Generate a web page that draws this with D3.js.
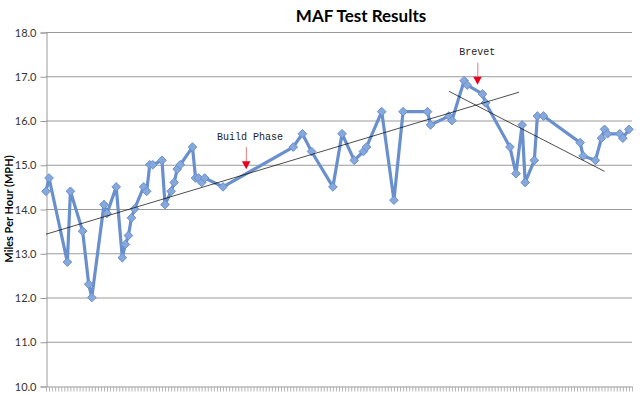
<!DOCTYPE html>
<html>
<head>
<meta charset="utf-8">
<script src="https://cdn.jsdelivr.net/npm/d3@7"></script>
<style>
	body { margin: 0; background: #fff; }
	svg { display: block; }
</style>
</head>
<body>
<svg id="chart" width="640" height="394"></svg>
<script>
// MAF test results, one point per ride (x = day number)

var days = [0, 1, 7, 8, 12, 14, 15, 19, 20, 23, 25, 26, 27, 28, 29, 32, 33, 34, 35, 38, 39, 41, 42, 43, 44,
	48, 49, 50, 51, 52, 58, 81, 84, 87, 94, 97, 101, 104, 105, 110, 114, 117, 125, 126, 132, 133,
	137, 138, 143, 144, 152, 154, 156, 157, 160, 161, 163, 175, 176, 180, 182, 183, 184, 188, 189, 191];
var mph = [14.4, 14.7, 12.8, 14.4, 13.5, 12.3, 12.0, 14.1, 13.9, 14.5, 12.9, 13.2, 13.4, 13.8, 14.0, 14.5, 14.4, 15.0, 15.0, 15.1, 14.1, 14.4, 14.6, 14.9, 15.0,
	15.4, 14.7, 14.7, 14.6, 14.7, 14.5, 15.4, 15.7, 15.3, 14.5, 15.7, 15.1, 15.3, 15.4, 16.2, 14.2, 16.2, 16.2, 15.9, 16.1, 16.0,
	16.9, 16.8, 16.6, 16.4, 15.4, 14.8, 15.9, 14.6, 15.1, 16.1, 16.1, 15.5, 15.2, 15.1, 15.6, 15.8, 15.7, 15.7, 15.6, 15.8];

// trend lines (start / end)
var trendBuildDays = [0, 155];
var trendBuildVals = [13.43, 16.64];
var trendBrevetDays = [132, 183];
var trendBrevetVals = [16.66, 14.85];

var yTicks = [10, 11, 12, 13, 14, 15, 16, 17, 18];
var dayCount = 192;

var annLabels = ['Build Phase', 'Brevet'];
var annDays = [65.5, 141.3];
var annTips = [14.9, 16.81];

var svg = d3.select('svg#chart');

var plotLeft = 46, plotRight = 632, plotTop = 32, plotBottom = 386;

var xScale = d3.scaleLinear().domain([0, dayCount]).range([plotLeft, plotRight]);
var yScale = d3.scaleLinear().domain([10, 18]).range([plotBottom, plotTop]);

// gridlines
svg.append('g')
	.selectAll('line')
	.data(yTicks.slice(1))
	.enter()
	.append('line')
	.attr('x1', plotLeft)
	.attr('x2', plotRight)
	.attr('y1', function (d) { return yScale(d) + 0.5; })
	.attr('y2', function (d) { return yScale(d) + 0.5; })
	.style('stroke', '#9a9a9a')
	.style('stroke-width', '1px');

// y axis
var yAxis = d3.axisLeft(yScale)
	.tickValues(yTicks)
	.tickFormat(d3.format('.1f'))
	.tickSize(6)
	.tickPadding(4);

var gy = svg.append('g')
	.attr('transform', 'translate(' + (plotLeft + 0.5) + ',0.5)')
	.call(yAxis);
gy.select('.domain').style('stroke', '#9a9a9a');
gy.selectAll('.tick line').style('stroke', '#9a9a9a');
gy.selectAll('.tick text')
	.style('font-family', 'Lato, "Open Sans", sans-serif')
	.style('font-size', '11px')
	.style('fill', '#333');

// x axis: one tick per day, no labels
var xAxis = d3.axisBottom(xScale)
	.tickValues(d3.range(0, dayCount + 1))
	.tickFormat('')
	.tickSize(5)
	.tickSizeOuter(0);

var gx = svg.append('g')
	.attr('transform', 'translate(0,' + (plotBottom + 0.5) + ')')
	.call(xAxis);
gx.select('.domain').style('stroke', '#9a9a9a');
gx.selectAll('.tick line').style('stroke', '#b4b4b4');

// data line
var line = d3.line()
	.x(function (d) { return xScale(d[0]); })
	.y(function (d) { return yScale(d[1]); });

var points = days.map(function (d, i) { return [d, mph[i]]; });

svg.append('path')
	.datum(points)
	.attr('d', line)
	.style('fill', 'none')
	.style('stroke', '#6990cc')
	.style('stroke-width', '3.2px')
	.style('stroke-linejoin', 'round');

svg.append('g')
	.selectAll('path')
	.data(points)
	.enter()
	.append('path')
	.attr('d', d3.symbol().type(d3.symbolDiamond2).size(48))
	.attr('transform', function (d) {
		return 'translate(' + xScale(d[0]) + ',' + yScale(d[1]) + ')';
	})
	.style('fill', '#86a8dc')
	.style('stroke', '#6990cc')
	.style('stroke-width', '1px');

// trend lines
[[trendBuildDays, trendBuildVals], [trendBrevetDays, trendBrevetVals]].forEach(function (t) {
	svg.append('line')
		.attr('x1', xScale(t[0][0]))
		.attr('y1', yScale(t[1][0]))
		.attr('x2', xScale(t[0][1]))
		.attr('y2', yScale(t[1][1]))
		.style('stroke', '#000')
		.style('stroke-width', '0.7px');
});

// annotations
var ann = svg.append('g')
	.selectAll('g')
	.data(annLabels)
	.enter()
	.append('g')
	.attr('transform', function (d, i) {
		return 'translate(' + xScale(annDays[i]) + ',' + yScale(annTips[i]) + ')';
	});

ann.append('line')
	.attr('x1', 0.5)
	.attr('x2', 0.5)
	.attr('y1', -22)
	.attr('y2', -7)
	.style('stroke', '#e79090')
	.style('stroke-width', '1.2px');

ann.append('path')
	.attr('d', 'M-4,-8L4.5,-8L0.3,0Z')
	.style('fill', '#e8001c');

ann.append('text')
	.attr('x', function (d, i) { return i === 0 ? 4 : 0; })
	.attr('y', -29.5)
	.text(function (d) { return d; })
	.style('text-anchor', 'middle')
	.style('font-family', '"Liberation Mono", "DejaVu Sans Mono", monospace')
	.style('font-size', '10px')
	.style('fill', '#222');

// titles
svg.append('text')
	.attr('x', 361)
	.attr('y', 22)
	.text('MAF Test Results')
	.style('text-anchor', 'middle')
	.style('font-family', 'Lato, "Open Sans", sans-serif')
	.style('font-weight', 'bold')
	.style('font-size', '17px')
	.style('fill', '#000');

svg.append('text')
	.attr('transform', 'translate(13,' + ((plotTop + plotBottom) / 2) + ') rotate(-90)')
	.text('Miles Per Hour (MPH)')
	.style('text-anchor', 'middle')
	.style('font-family', 'Lato, "Open Sans", sans-serif')
	.style('font-weight', 'bold')
	.style('font-size', '11px')
	.style('fill', '#000');
</script>
</body>
</html>
